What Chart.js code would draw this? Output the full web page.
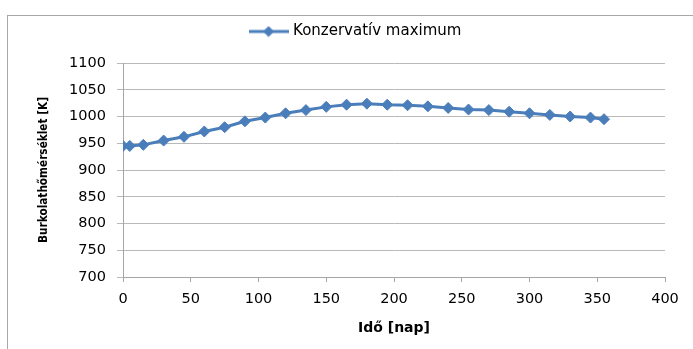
<!DOCTYPE html>
<html>
<head>
<meta charset="utf-8">
<script src="https://cdn.jsdelivr.net/npm/chart.js@4"></script>
<style>
  body { margin: 0; background: #fff; overflow: hidden; }
  #wrap { position: relative; width: 693px; height: 349px; }
  #frame { position: absolute; left: 7px; top: 15px; width: 720px; height: 400px; border: 1px solid #a8a8a8; }
  #chart { position: absolute; left: 0; top: 0; }
</style>
</head>
<body>
<div id="wrap">
  <div id="frame"></div>
  <canvas id="chart" width="693" height="349"></canvas>
</div>
<script>
var days = [0, 5, 15, 30, 45, 60, 75, 90, 105, 120, 135, 150, 165, 180, 195, 210, 225, 240, 255, 270, 285, 300, 315, 330, 345, 355];
var temps = [945, 945, 947, 955, 962, 972, 980, 991, 998, 1006, 1012, 1018, 1022, 1024, 1022, 1021, 1019, 1016, 1013, 1012, 1009, 1006, 1003, 1000, 998, 995];
var seriesName = 'Konzervatív maximum';
var xTitle = 'Idő [nap]';
var yTitle = 'Burkolathőmérséklet [K]';

var blue = '#4a7ebb';
var tickFont = { family: 'DejaVu Sans', size: 14.5 };

// legend marker: line with a diamond, like the spreadsheet one
var legendMark = document.createElement('canvas');
legendMark.width = 40;
legendMark.height = 12;
var lc = legendMark.getContext('2d');
lc.strokeStyle = blue;
lc.lineWidth = 3;
lc.beginPath();
lc.moveTo(0, 6);
lc.lineTo(40, 6);
lc.stroke();
lc.fillStyle = blue;
lc.beginPath();
lc.moveTo(20, 0.5);
lc.lineTo(25.5, 6);
lc.lineTo(20, 11.5);
lc.lineTo(14.5, 6);
lc.closePath();
lc.fill();

var points = days.map(function(d, i) {
    return { x: d, y: temps[i] };
});

// extra room under the legend
var legendGap = {
    id: 'legendGap',
    afterInit: function(chart) {
        var fit = chart.legend.fit;
        chart.legend.fit = function() {
            fit.call(this);
            this.height += 14;
        };
    }
};

var plain = function(v) { return String(v); };

var ctx = document.getElementById('chart').getContext('2d');
var chart = new Chart(ctx, {
    type: 'line',
    data: {
        datasets: [{
            label: seriesName,
            data: points,
            borderColor: blue,
            backgroundColor: blue,
            borderWidth: 3,
            pointStyle: 'rectRot',
            pointRadius: 5.5,
            pointBorderWidth: 1,
            pointBackgroundColor: blue,
            pointBorderColor: blue,
            tension: 0
        }]
    },
    options: {
        responsive: false,
        animation: false,
        layout: { padding: { left: 48, right: 28, top: 14, bottom: 0 } },
        plugins: {
            legend: {
                position: 'top',
                labels: {
                    usePointStyle: true,
                    pointStyle: legendMark,
                    pointStyleWidth: 34,
                    padding: 10,
                    color: '#000',
                    font: { family: 'DejaVu Sans', size: 15 }
                }
            },
            tooltip: { enabled: false }
        },
        scales: {
            x: {
                type: 'linear',
                min: 0,
                max: 400,
                ticks: { stepSize: 50, color: '#000', font: tickFont, padding: 9, maxRotation: 0, callback: plain },
                grid: { drawOnChartArea: false, drawTicks: true, tickLength: 5, color: '#a6a6a6' },
                border: { color: '#a6a6a6' },
                title: {
                    display: true,
                    text: xTitle,
                    color: '#000',
                    font: { family: 'DejaVu Sans', size: 14, weight: 'bold' },
                    padding: { top: 0, bottom: 12 }
                },
                afterFit: function(scale) { scale.height = 72; }
            },
            y: {
                min: 700,
                max: 1100,
                ticks: { stepSize: 50, color: '#000', font: tickFont, padding: 11, callback: plain },
                grid: { color: '#b9b9b9', tickLength: 6 },
                border: { color: '#a6a6a6' },
                title: {
                    display: true,
                    text: yTitle,
                    color: '#000',
                    font: { family: "'DejaVu Sans Condensed', sans-serif", size: 11.7, weight: 'bold', lineHeight: 1 },
                    padding: { top: -10, bottom: 0 }
                },
                afterFit: function(scale) { scale.width = 75; }
            }
        }
    },
    plugins: [legendGap]
});
</script>
</body>
</html>
